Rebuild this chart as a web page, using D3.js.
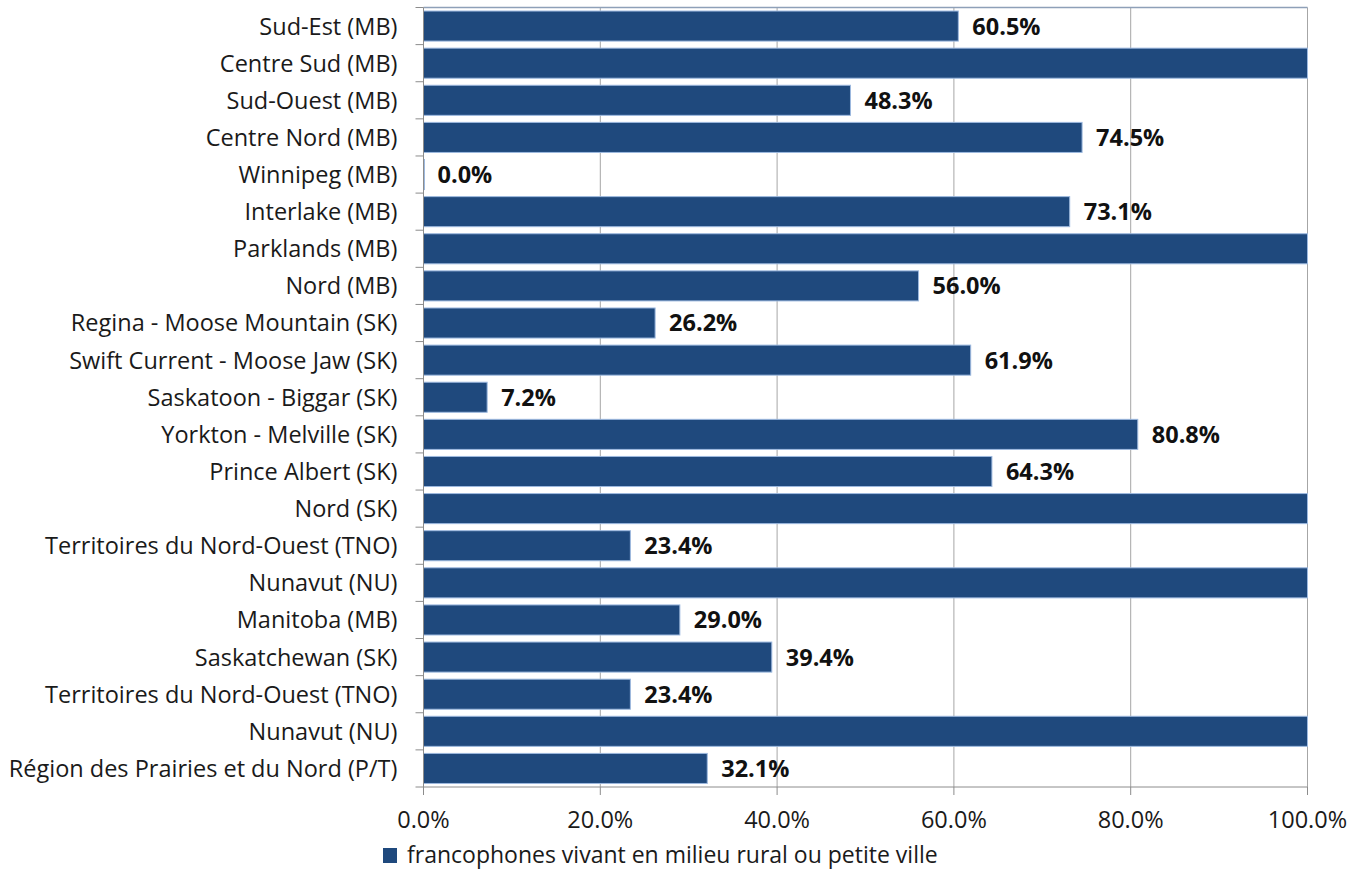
<!DOCTYPE html>
<html>
<head>
<meta charset="utf-8">
<script src="https://cdn.jsdelivr.net/npm/d3@7"></script>
<style>
  body { margin: 0; background: #fff; }
  svg text { font-family: "Open Sans", "Liberation Sans", sans-serif; fill: #1a1a1a; }
</style>
</head>
<body>
<svg id="chart" width="1351" height="870"></svg>
<script>
// categories, top to bottom
var regions = [
  "Sud-Est (MB)", "Centre Sud (MB)", "Sud-Ouest (MB)", "Centre Nord (MB)",
  "Winnipeg (MB)", "Interlake (MB)", "Parklands (MB)", "Nord (MB)",
  "Regina - Moose Mountain (SK)", "Swift Current - Moose Jaw (SK)",
  "Saskatoon - Biggar (SK)", "Yorkton - Melville (SK)", "Prince Albert (SK)",
  "Nord (SK)", "Territoires du Nord-Ouest (TNO)", "Nunavut (NU)",
  "Manitoba (MB)", "Saskatchewan (SK)", "Territoires du Nord-Ouest (TNO)",
  "Nunavut (NU)", "Région des Prairies et du Nord (P/T)"
];

// share of francophones (%)
var shares = [60.5, 100, 48.3, 74.5, 0.0, 73.1, 100, 56.0, 26.2, 61.9, 7.2,
              80.8, 64.3, 100, 23.4, 100, 29.0, 39.4, 23.4, 100, 32.1];

var xTicks = [0, 20, 40, 60, 80, 100];
var seriesName = "francophones vivant en milieu rural ou petite ville";

var margin = {top: 7.5, left: 423.5, right: 43.5, bottom: 83};
var W = 1351, H = 870;
var fs = 23.5;
var svg = d3.select("#chart");

var x = d3.scaleLinear().domain([0, 100]).range([margin.left, W - margin.right]);
var y = d3.scaleBand()
  .domain(d3.range(regions.length))
  .range([margin.top, H - margin.bottom])
  .paddingInner(0.19).paddingOuter(0.095);

var step = y.step();

// gridlines
svg.append("g")
  .selectAll("line")
  .data(xTicks.slice(1))
  .enter().append("line")
  .attr("x1", function(d) { return x(d); })
  .attr("x2", function(d) { return x(d); })
  .attr("y1", margin.top)
  .attr("y2", H - margin.bottom)
  .attr("stroke", "#a6a6a6")
  .attr("stroke-width", 1);

// top border
svg.append("line")
  .attr("x1", x(0)).attr("x2", x(100))
  .attr("y1", margin.top).attr("y2", margin.top)
  .attr("stroke", "#8ea0b8").attr("stroke-width", 1.5);

// bars
svg.append("g")
  .selectAll("rect")
  .data(shares)
  .enter().append("rect")
  .attr("x", x(0))
  .attr("y", function(d, i) { return y(i); })
  .attr("width", function(d) { return Math.max(x(d) - x(0), 1); })
  .attr("height", y.bandwidth())
  .attr("fill", "#1f497d")
  .attr("stroke", "#9db9df")
  .attr("stroke-width", 1);

// value labels (100% bars have none)
svg.append("g")
  .selectAll("text")
  .data(shares.map(function(v, i) { return {v: v, i: i}; }).filter(function(d) { return d.v < 100; }))
  .enter().append("text")
  .attr("x", function(d) { return x(d.v) + 14; })
  .attr("y", function(d) { return y(d.i) + y.bandwidth() / 2; })
  .attr("dy", "0.36em")
  .attr("font-size", fs)
  .attr("font-weight", "bold")
  .style("fill", "#111")
  .text(function(d) { return d.v.toFixed(1) + "%"; });

// y axis
var yAxis = svg.append("g").attr("transform", "translate(" + x(0) + ",0)");
yAxis.append("line")
  .attr("x1", 0).attr("x2", 0)
  .attr("y1", margin.top).attr("y2", H - margin.bottom)
  .attr("stroke", "#8c8c8c");
yAxis.selectAll(".tick")
  .data(d3.range(regions.length + 1))
  .enter().append("line")
  .attr("x1", -8).attr("x2", 0)
  .attr("y1", function(i) { return margin.top + i * step; })
  .attr("y2", function(i) { return margin.top + i * step; })
  .attr("stroke", "#8c8c8c");
yAxis.selectAll("text")
  .data(regions)
  .enter().append("text")
  .attr("x", -26)
  .attr("y", function(d, i) { return y(i) + y.bandwidth() / 2; })
  .attr("dy", "0.36em")
  .attr("text-anchor", "end")
  .attr("font-size", fs)
  .text(function(d) { return d; });

// x axis
var xAxis = svg.append("g").attr("transform", "translate(0," + (H - margin.bottom) + ")");
xAxis.append("line")
  .attr("x1", x(0)).attr("x2", x(100))
  .attr("stroke", "#8c8c8c");
xAxis.selectAll(".tick")
  .data(xTicks)
  .enter().append("line")
  .attr("x1", function(d) { return x(d); })
  .attr("x2", function(d) { return x(d); })
  .attr("y1", 0).attr("y2", 8)
  .attr("stroke", "#8c8c8c");
xAxis.selectAll("text")
  .data(xTicks)
  .enter().append("text")
  .attr("x", function(d) { return x(d); })
  .attr("y", 41)
  .attr("text-anchor", "middle")
  .attr("font-size", fs)
  .text(function(d) { return d.toFixed(1) + "%"; });

// legend
var legend = svg.append("g").attr("transform", "translate(383,848)");
legend.append("rect")
  .attr("width", 14).attr("height", 15)
  .attr("fill", "#1f497d");
legend.append("text")
  .attr("x", 24).attr("y", 15)
  .attr("font-size", 23)
  .text(seriesName);
</script>
</body>
</html>
